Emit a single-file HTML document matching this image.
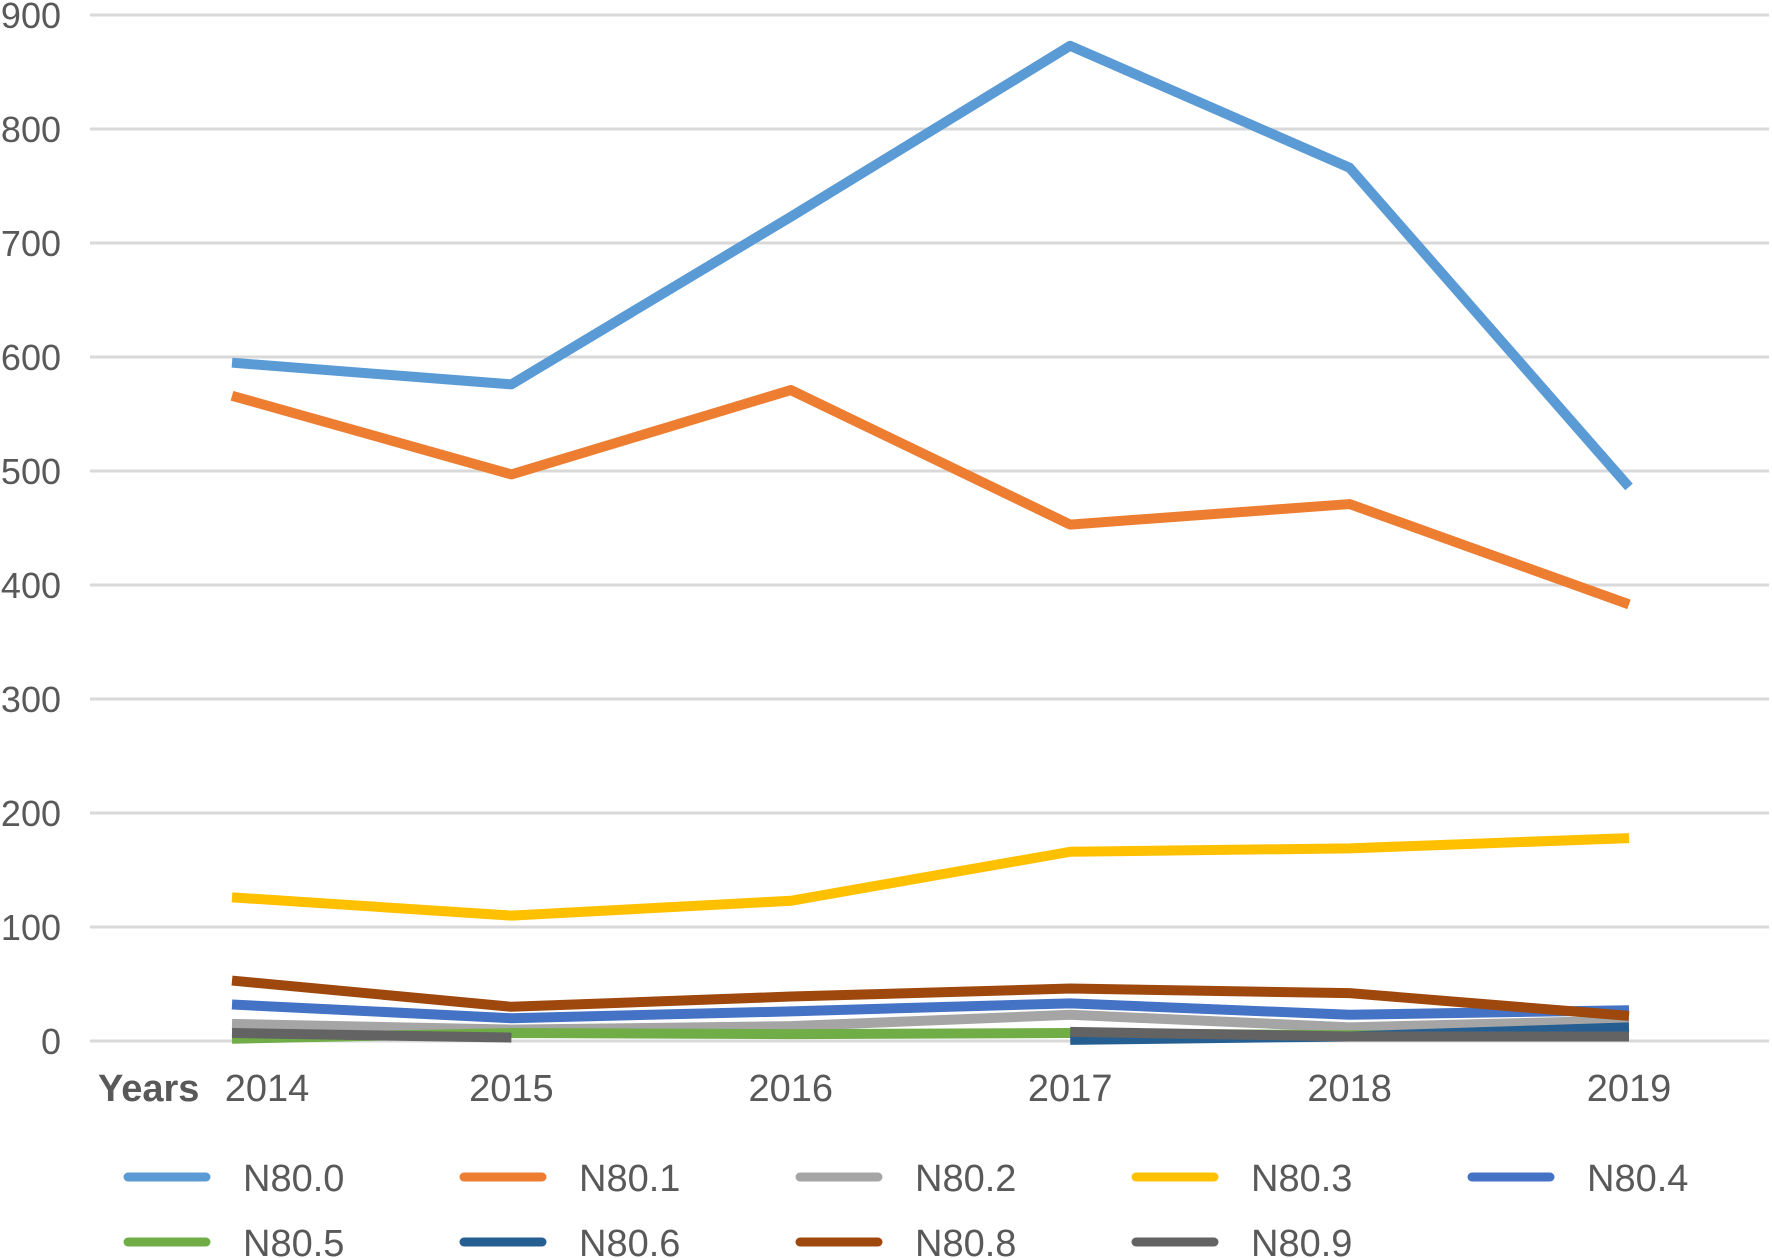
<!DOCTYPE html>
<html><head><meta charset="utf-8"><style>
html,body{margin:0;padding:0;background:#fff;}
svg{display:block;font-family:"Liberation Sans",sans-serif;}
</style></head><body>
<svg id="chart" width="1772" height="1258" viewBox="0 0 1772 1258" xmlns="http://www.w3.org/2000/svg"></svg>
<script>
const categories = ["2014","2015","2016","2017","2018","2019"];
const yTicks = [0,100,200,300,400,500,600,700,800,900];
const seriesNames = ["N80.0","N80.1","N80.2","N80.3","N80.4","N80.5","N80.6","N80.8","N80.9"];
const s0 = [595,576,723,873,766,486];
const s1 = [566,497,571,453,471,383];
const s2 = [15,10,13,23,12,18];
const s3 = [126,110,123,166,169,178];
const s4 = [32,20,26,33,23,27];
const s5 = [2,7,6,7,5,5];
const s6 = [null,null,null,1,4,12];
const s8 = [53,30,39,46,42,22];
const s9 = [7,3,null,8,4,4];
const colors = ["#5B9BD5","#ED7D31","#A5A5A5","#FFC000","#4472C4","#70AD47","#255E91","#9E480E","#636363"];
const seriesValues = [s0,s1,s2,s3,s4,s5,s6,s8,s9];
const drawOrder = [0,1,2,3,4,5,6,7,8];

const NS="http://www.w3.org/2000/svg";
const svg=document.getElementById('chart');
const x0=232,x1=1629,yZero=1041,yTop=15,yMax=900,gl=90,gr=1769;
const xs=i=>x0+(x1-x0)*i/(categories.length-1);
const ys=v=>yZero-(yZero-yTop)*v/yMax;
function mk(t,a){const e=document.createElementNS(NS,t);for(const k in a)e.setAttribute(k,a[k]);svg.appendChild(e);return e;}

yTicks.forEach(t=>{
  const l=mk('line',{x1:gl,x2:gr,y1:ys(t),y2:ys(t),stroke:'#d9d9d9','stroke-width':3});
  
  
  const tx=mk('text',{x:61,y:ys(t)+13,'text-anchor':'end','font-size':36,fill:'#595959'});
  tx.textContent=t;
  
  
});
categories.forEach((c,i)=>{
  const cx = i===0 ? 267 : xs(i);
  const tx=mk('text',{x:cx,y:1101,'text-anchor':'middle','font-size':38,fill:'#595959'});
  tx.textContent=c;
  
  
});
const yl=mk('text',{x:98,y:1101,'font-size':38,'font-weight':'bold',fill:'#595959'});
yl.textContent='Years';



drawOrder.forEach(si=>{
  const vals=seriesValues[si];
  let d='',pen=false;
  vals.forEach((v,i)=>{
    if(v===null){pen=false;return;}
    d+=(pen?'L':'M')+xs(i)+' '+ys(v)+' ';pen=true;
  });
  const p=mk('path',{d:d,fill:'none',stroke:colors[si],'stroke-width':10,'stroke-linejoin':'round','stroke-linecap':'butt'});
  
  
});

seriesNames.forEach((n,i)=>{
  const col=i%5,row=Math.floor(i/5);
  const lx=128,ly=1177+row*65;
  const g=mk('line',{x1:lx+col*336,x2:lx+col*336+78,y1:ly,y2:ly,stroke:colors[i],'stroke-width':9,'stroke-linecap':'round'});
  
  
  const t=mk('text',{x:243+col*336,y:ly+14,'font-size':38,fill:'#595959'});
  t.textContent=n;
  
  
});
</script>
</body></html>
